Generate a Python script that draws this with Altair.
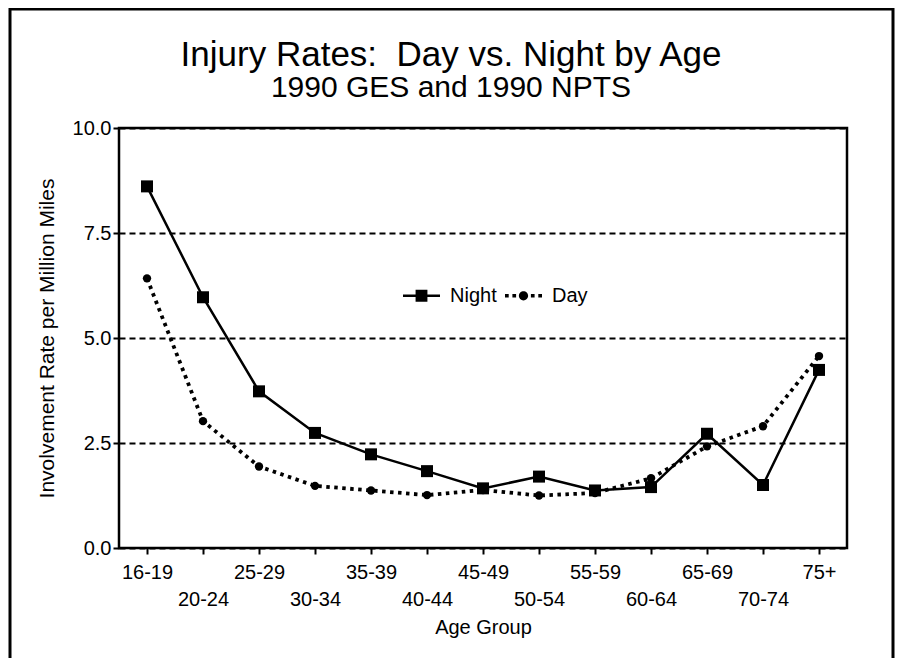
import altair as alt
import pandas as pd

ages = ["16-19", "20-24", "25-29", "30-34", "35-39", "40-44", "45-49",
        "50-54", "55-59", "60-64", "65-69", "70-74", "75+"]
night = [8.61, 5.97, 3.73, 2.74, 2.23, 1.83, 1.42, 1.70, 1.37, 1.45, 2.72, 1.50, 4.24]
day = [6.42, 3.02, 1.94, 1.48, 1.37, 1.26, 1.38, 1.25, 1.31, 1.66, 2.42, 2.90, 4.57]
series = ["Night", "Day"]
y_ticks = [0, 2.5, 5, 7.5, 10]

rows = []
for a, n, d in zip(ages, night, day):
    rows.append({"age": a, "series": "Night", "rate": n})
    rows.append({"age": a, "series": "Day", "rate": d})
df = pd.DataFrame(rows)

NARROW = "Liberation Sans Narrow, Arial Narrow, Liberation Sans, Arial, sans-serif"
SANS = "Liberation Sans, Arial, Helvetica, sans-serif"

W, H = 728, 420

age_list = "[" + ",".join("'" + a + "'" for a in ages) + "]"
x_enc = alt.X(
    "age:N", sort=ages,
    scale=alt.Scale(type="point", padding=0.5),
    axis=alt.Axis(
        title="Age Group", labelAngle=0, labelBaseline="top", labelLineHeight=27,
        labelExpr="indexof(" + age_list + ", datum.value) % 2 == 1 ? ['', datum.value] : datum.value",
        labelFont=NARROW, labelFontSize=20, labelColor="black", labelPadding=8,
        tickSize=6, tickWidth=2, tickColor="black", domain=False, grid=False,
        titleFont=NARROW, titleFontSize=20, titleFontWeight="normal", titleColor="black",
        titlePadding=8,
    ),
)
y_enc = alt.Y(
    "rate:Q",
    scale=alt.Scale(domain=[0, 10], nice=False, zero=True),
    axis=alt.Axis(
        title="Involvement Rate per Million Miles", values=y_ticks, format=".1f",
        grid=True, gridDash=[6, 4], gridWidth=2, gridColor="black", gridOpacity=1,
        tickSize=6, tickWidth=2, tickColor="black", domain=False,
        labelFont=NARROW, labelFontSize=20, labelColor="black", labelPadding=2,
        titleFont=SANS, titleFontSize=21, titleFontWeight="normal", titleColor="black",
        titleAngle=-90, titleAlign="center", titleBaseline="middle",
        titleX=-72, titleY=H / 2,
    ),
)

base = alt.Chart(df).encode(x=x_enc, y=y_enc)

night_line = base.transform_filter(alt.datum.series == "Night").mark_line(
    color="black", strokeWidth=2.5)
night_pts = base.transform_filter(alt.datum.series == "Night").mark_point(
    shape="square", filled=True, size=144, color="black", opacity=1)
day_line = base.transform_filter(alt.datum.series == "Day").mark_line(
    color="black", strokeWidth=3.8, strokeDash=[3.5, 4.5])
day_pts = base.transform_filter(alt.datum.series == "Day").mark_point(
    shape="circle", filled=True, size=70, color="black", opacity=1)

night_sym = "M-1,-0.07L1,-0.07L1,0.07L-1,0.07Z M-0.32,-0.32L0.32,-0.32L0.32,0.32L-0.32,0.32Z"
def dot(cx):
    return "M%.3f,-0.1h0.2v0.2h-0.2Z" % (cx - 0.1)
day_sym = " ".join([dot(-0.9), dot(-0.5), dot(0.5), dot(0.9)]) + \
    " M-0.25,0A0.25,0.25 0 1,0 0.25,0A0.25,0.25 0 1,0 -0.25,0Z"

legend_layer = base.mark_point(filled=True, color="black", opacity=0).encode(
    shape=alt.Shape(
        "series:N",
        scale=alt.Scale(domain=series, range=[night_sym, day_sym]),
        legend=alt.Legend(
            title=None, orient="none", direction="horizontal",
            legendX=284, legendY=149, padding=0,
            symbolSize=1369, symbolFillColor="black", symbolStrokeColor="black",
            symbolStrokeWidth=0, symbolOpacity=1,
            labelFont=NARROW, labelFontSize=20, labelColor="black",
            labelOffset=10, columnPadding=8,
        ),
    )
)

frame = alt.Chart(pd.DataFrame({"k": [0]})).mark_rect(
    fill=None, stroke="black", strokeWidth=3
).encode(
    x=alt.value(-109), x2=alt.value(774), y=alt.value(-119), y2=alt.value(560)
)

chart = alt.layer(frame, night_line, day_line, night_pts, day_pts, legend_layer).properties(
    width=W, height=H,
    background="white",
    autosize=alt.AutoSizeParams(type="none"),
    padding={"left": 111, "top": 120, "right": 49, "bottom": 110},
    title=alt.TitleParams(
        text="Injury Rates:\u00a0 Day vs. Night by Age",
        subtitle="1990 GES and 1990 NPTS",
        font=NARROW, fontSize=35, fontWeight="normal", color="black",
        subtitleFont=NARROW, subtitleFontSize=30, subtitleColor="black",
        subtitlePadding=0, anchor="middle", frame="group", dx=-32, offset=-95,
    ),
).configure_view(stroke="black", strokeWidth=2.5)

chart.save("out.html", embed_options={"renderer": "svg", "actions": False})
